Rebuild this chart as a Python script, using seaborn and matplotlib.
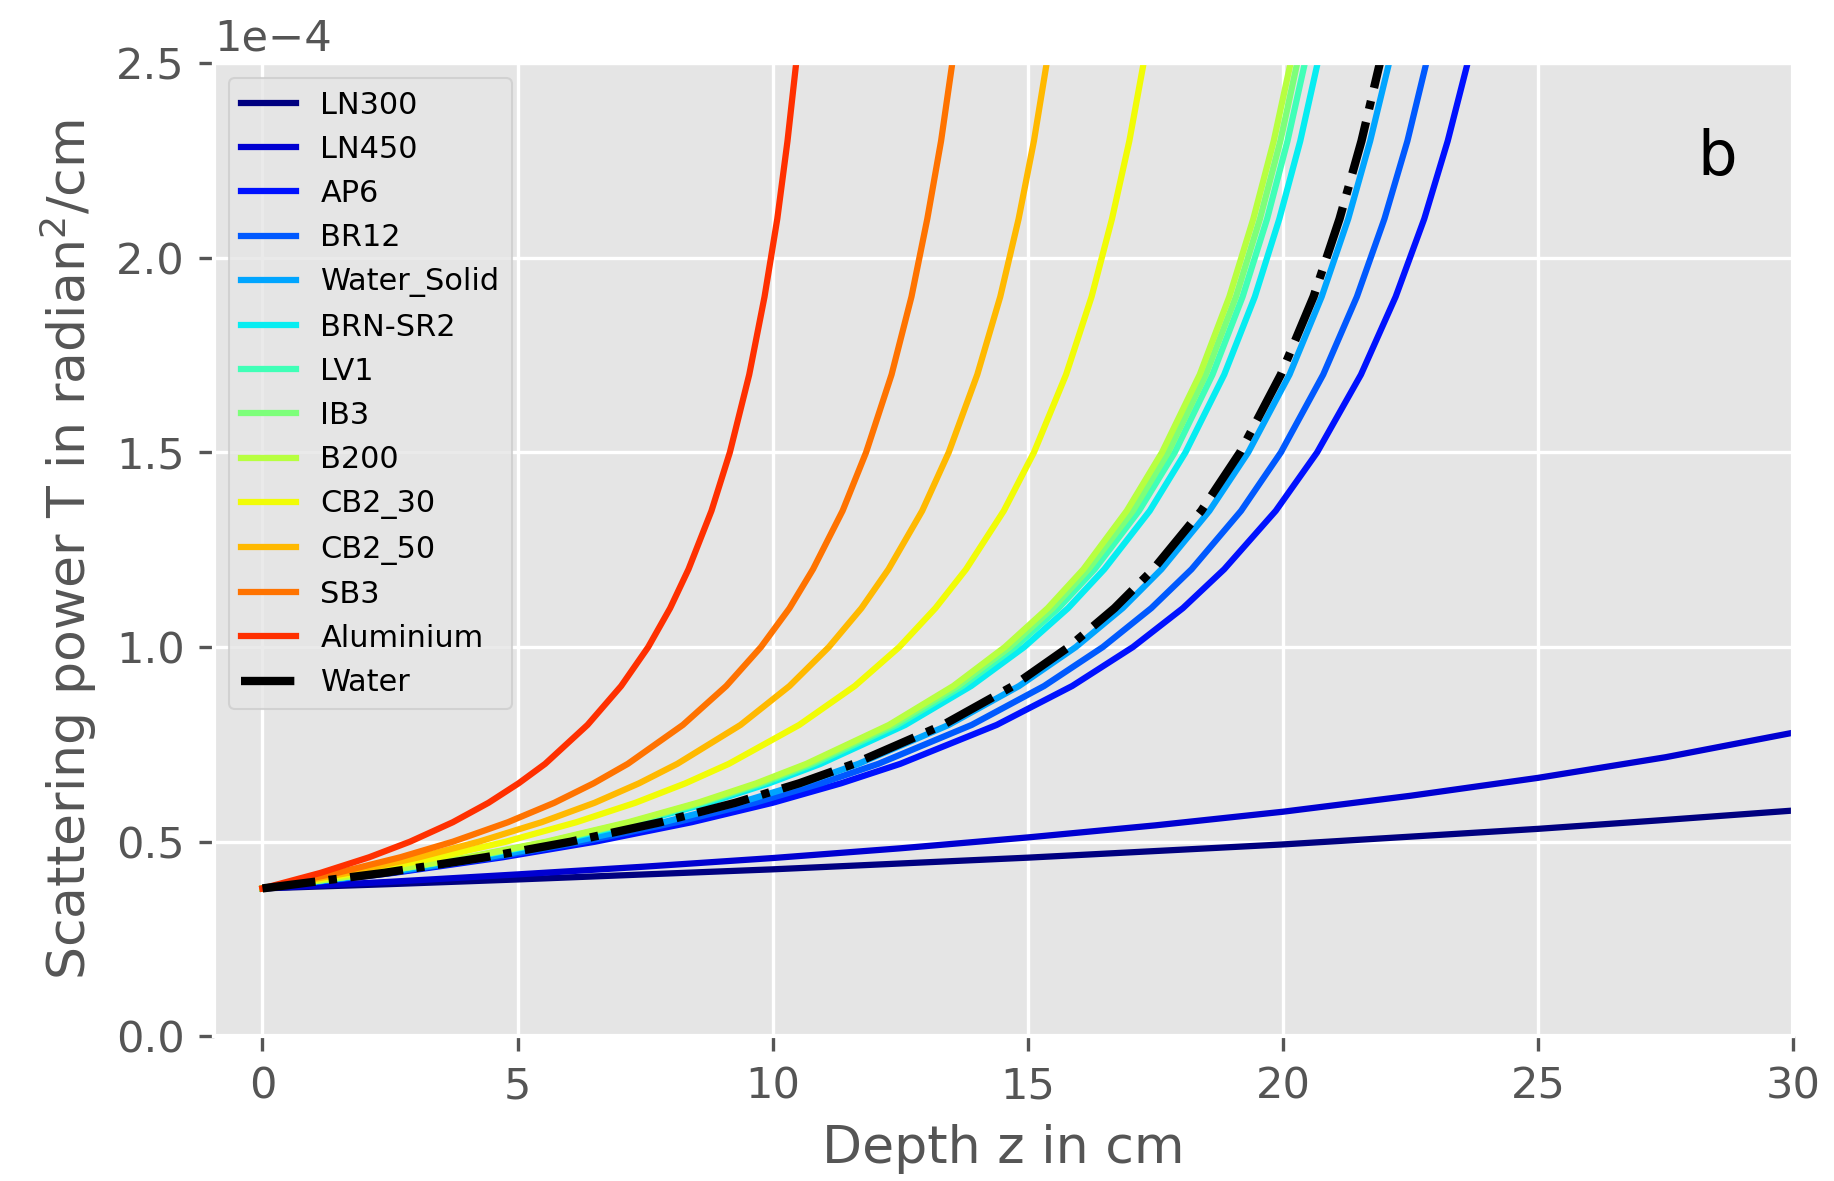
import numpy as np
import pandas as pd
import matplotlib
matplotlib.use("Agg")
import matplotlib.pyplot as plt
import seaborn as sns

# ---- data: scattering power T (units of 1e-4 radian^2/cm) vs depth z (cm) ----
materials = ["LN300", "LN450", "AP6", "BR12", "Water_Solid", "BRN-SR2", "LV1",
             "IB3", "B200", "CB2_30", "CB2_50", "SB3", "Aluminium"]

# slowly rising curves, read at fixed depths
z_slow = [0, 2.5, 5, 7.5, 10, 12.5, 15, 17.5, 20, 22.5, 25, 27.5, 30]
T_LN300 = [0.38, 0.391, 0.403, 0.416, 0.429, 0.444, 0.459, 0.476, 0.493, 0.513, 0.533, 0.556, 0.58]
T_LN450 = [0.38, 0.397, 0.416, 0.436, 0.458, 0.483, 0.511, 0.542, 0.577, 0.618, 0.664, 0.717, 0.78]

# steep curves, read as the depth where each T level is reached
T_levels = [0.38, 0.42, 0.46, 0.50, 0.55, 0.60, 0.65, 0.70, 0.80, 0.90, 1.00,
            1.10, 1.20, 1.35, 1.50, 1.70, 1.90, 2.10, 2.30, 2.50, 2.70]

z_AP6 = [0, 2.58, 4.71, 6.52, 8.41, 10.00, 11.34, 12.50, 14.39, 15.87, 17.06,
         18.04, 18.85, 19.86, 20.67, 21.53, 22.21, 22.77, 23.23, 23.62, 23.95]
z_BR12 = [0, 2.49, 4.55, 6.29, 8.12, 9.65, 10.95, 12.07, 13.90, 15.32, 16.47,
          17.42, 18.21, 19.18, 19.96, 20.79, 21.45, 21.99, 22.44, 22.81, 23.13]
z_WaterSolid = [0, 2.41, 4.41, 6.09, 7.86, 9.34, 10.60, 11.68, 13.45, 14.83, 15.94,
                16.86, 17.62, 18.56, 19.32, 20.13, 20.76, 21.28, 21.71, 22.08, 22.39]
z_BRNSR2 = [0, 2.25, 4.13, 5.70, 7.36, 8.75, 9.93, 10.94, 12.60, 13.89, 14.93,
            15.79, 16.50, 17.39, 18.09, 18.85, 19.45, 19.93, 20.34, 20.68, 20.97]
z_LV1 = [0, 2.23, 4.08, 5.64, 7.27, 8.64, 9.81, 10.81, 12.44, 13.72, 14.75,
         15.60, 16.31, 17.18, 17.88, 18.62, 19.21, 19.69, 20.09, 20.43, 20.72]
z_IB3 = [0, 2.21, 4.05, 5.60, 7.22, 8.58, 9.74, 10.73, 12.36, 13.63, 14.65,
         15.49, 16.19, 17.06, 17.75, 18.49, 19.08, 19.55, 19.95, 20.28, 20.57]
z_B200 = [0, 2.20, 4.02, 5.56, 7.17, 8.53, 9.68, 10.66, 12.28, 13.54, 14.55,
          15.39, 16.09, 16.94, 17.63, 18.37, 18.95, 19.42, 19.82, 20.15, 20.44]
z_CB2_30 = [0, 1.88, 3.45, 4.77, 6.15, 7.31, 8.29, 9.14, 10.52, 11.61, 12.48,
            13.19, 13.79, 14.53, 15.12, 15.75, 16.25, 16.65, 16.99, 17.27, 17.52]
z_CB2_50 = [0, 1.68, 3.07, 4.24, 5.47, 6.51, 7.38, 8.13, 9.37, 10.33, 11.10,
            11.74, 12.27, 12.93, 13.45, 14.01, 14.46, 14.82, 15.12, 15.37, 15.59]
z_SB3 = [0, 1.47, 2.70, 3.73, 4.81, 5.72, 6.49, 7.16, 8.24, 9.09, 9.77,
         10.33, 10.79, 11.37, 11.83, 12.33, 12.72, 13.03, 13.30, 13.52, 13.71]
z_Al = [0, 1.14, 2.09, 2.89, 3.73, 4.43, 5.02, 5.54, 6.37, 7.03, 7.56,
        7.99, 8.35, 8.80, 9.16, 9.54, 9.84, 10.09, 10.29, 10.46, 10.61]
z_Water = [0, 2.39, 4.37, 6.04, 7.80, 9.27, 10.52, 11.59, 13.34, 14.71, 15.80,
           16.70, 17.46, 18.40, 19.16, 19.96, 20.60, 21.11, 21.54, 21.90, 22.21]

series = {
    "LN300": (z_slow, T_LN300), "LN450": (z_slow, T_LN450),
    "AP6": (z_AP6, T_levels), "BR12": (z_BR12, T_levels),
    "Water_Solid": (z_WaterSolid, T_levels), "BRN-SR2": (z_BRNSR2, T_levels),
    "LV1": (z_LV1, T_levels), "IB3": (z_IB3, T_levels), "B200": (z_B200, T_levels),
    "CB2_30": (z_CB2_30, T_levels), "CB2_50": (z_CB2_50, T_levels),
    "SB3": (z_SB3, T_levels), "Aluminium": (z_Al, T_levels),
}

# ---- style ----
plt.style.use("ggplot")
plt.rcParams["xtick.labelsize"] = 10.4
plt.rcParams["ytick.labelsize"] = 10.4
plt.rcParams["axes.labelsize"] = 12.5

fig = plt.figure(figsize=(1834 / 300, 1181 / 300), dpi=300)
ax = fig.add_axes([0.1167, 0.1225, 0.861, 0.824])

colors = plt.cm.jet(np.arange(13) / 14.0)

for i, name in enumerate(materials):
    zz, tt = series[name]
    df = pd.DataFrame({"z": zz, "T": np.array(tt) * 1e-4})
    sns.lineplot(data=df, x="z", y="T", color=colors[i], lw=1.5, label=name,
                 ax=ax, sort=False, estimator=None)

dfw = pd.DataFrame({"z": z_Water, "T": np.array(T_levels) * 1e-4})
sns.lineplot(data=dfw, x="z", y="T", color="black", lw=2, linestyle="-.",
             label="Water", ax=ax, sort=False, estimator=None)

ax.set_xlim(-0.95, 30)
ax.set_ylim(0, 2.5e-4)
ax.set_xticks([0, 5, 10, 15, 20, 25, 30])
ax.set_xlabel("Depth z in cm")
ax.set_ylabel("Scattering power T in radian$^2$/cm")
ax.ticklabel_format(axis="y", style="sci", scilimits=(0, 0))
ax.yaxis.get_offset_text().set_fontsize(10.4)

ax.legend(loc="upper left", fontsize=7.3, handlelength=1.8)
ax.text(0.952, 0.903, "b", transform=ax.transAxes, fontsize=15,
        ha="center", va="center", color="black")

fig.savefig("out.png", dpi=300)
